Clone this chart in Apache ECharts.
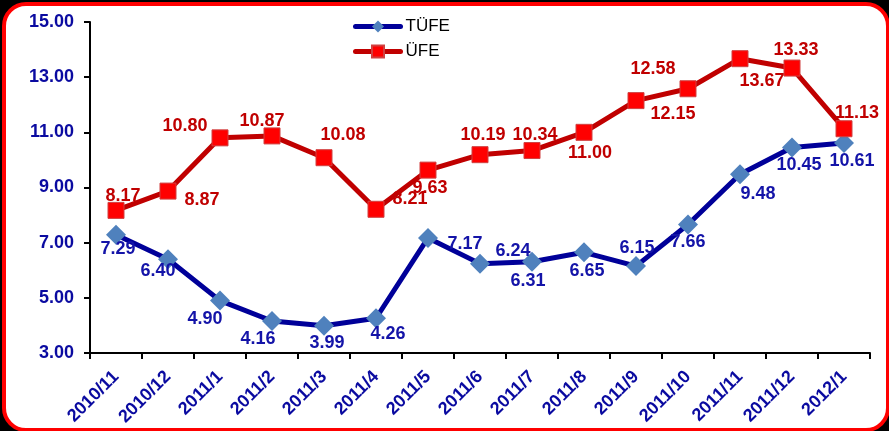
<!DOCTYPE html>
<html>
<head>
<meta charset="utf-8">
<script src="https://cdn.jsdelivr.net/npm/echarts@6/dist/echarts.min.js"></script>
<style>
html,body{margin:0;padding:0;background:#000;}
#c{width:889px;height:431px;}
</style>
</head>
<body>
<div id="c"></div>
<script>
var categories = ['2010/11','2010/12','2011/1','2011/2','2011/3','2011/4','2011/5','2011/6','2011/7','2011/8','2011/9','2011/10','2011/11','2011/12','2012/1'];
var tufe = [7.29, 6.40, 4.90, 4.16, 3.99, 4.26, 7.17, 6.24, 6.31, 6.65, 6.15, 7.66, 9.48, 10.45, 10.61];
var ufe = [8.17, 8.87, 10.80, 10.87, 10.08, 8.21, 9.63, 10.19, 10.34, 11.00, 12.15, 12.58, 13.67, 13.33, 11.13];
var yTicks = [3, 5, 7, 9, 11, 13, 15];

// label offsets (layout only)
var tufeOff = [[2,14],[-10,12],[-15,18],[-14,18],[3,17],[12,16],[37,6],[33,-13],[-4,19],[3,19],[1,-18],[0,18],[18,20],[7,18],[8,18]];
var ufeOff = [[7,-14],[34,9],[-35,-12],[-10,-15],[19,-23],[34,-10],[2,18],[3,-20],[3,-16],[6,21],[37,13],[-35,-20],[22,22],[4,-18],[13,-16]];

var chart = echarts.init(document.getElementById('c'));
var FONT = '"Liberation Sans", Arial, sans-serif';

function mk(vals, offs, color) {
  return vals.map(function (v, i) {
    return { value: v, label: { show: true, position: 'inside', offset: offs[i], formatter: function(p){return p.value.toFixed(2);}, color: color, fontWeight: 'bold', fontSize: 18, fontFamily: FONT } };
  });
}

chart.setOption({
  backgroundColor: '#000',
  animation: false,
  graphic: [{
    type: 'rect', left: 2, top: 2, z: -10,
    shape: { width: 884, height: 426, r: 22 },
    style: { fill: '#fff', stroke: '#ff0000', lineWidth: 4 }
  }],
  legend: {
    orient: 'vertical', left: 348, top: 12, itemGap: 6,
    itemWidth: 45, itemHeight: 15,
    lineStyle: { width: 5, cap: 'round' },
    textStyle: { fontFamily: FONT, fontSize: 17, color: '#000', lineHeight: 19 },
    data: ['TÜFE', 'ÜFE']
  },
  grid: { left: 90, right: 19, top: 22, bottom: 78 },
  xAxis: {
    type: 'category', data: categories, boundaryGap: true,
    axisLine: { lineStyle: { color: '#000', width: 2 } },
    axisTick: { show: true, length: 6, lineStyle: { color: '#000', width: 2 } },
    axisLabel: { rotate: 45, margin: 21, color: '#0a0aa0', fontWeight: 'bold', fontSize: 18, fontFamily: FONT, interval: 0 }
  },
  yAxis: {
    type: 'value', min: yTicks[0], max: yTicks[yTicks.length-1], interval: 2,
    axisLine: { show: true, lineStyle: { color: '#000', width: 2 } },
    axisTick: { show: true, length: 6, lineStyle: { color: '#000', width: 2 } },
    splitLine: { show: false },
    axisLabel: { color: '#0a0aa0', fontWeight: 'bold', fontSize: 18, fontFamily: FONT, margin: 16, formatter: function(v){return v.toFixed(2);} }
  },
  series: [{
    name: 'TÜFE', type: 'line', data: mk(tufe, tufeOff, '#1414a8'),
    symbol: 'diamond', symbolSize: 20,
    lineStyle: { color: '#000099', width: 5 },
    itemStyle: { color: '#4f81bd', borderColor: '#4f81bd', borderWidth: 0 },
    z: 3
  }, {
    name: 'ÜFE', type: 'line', data: mk(ufe, ufeOff, '#c00000'),
    symbol: 'rect', symbolSize: 16,
    lineStyle: { color: '#c00000', width: 5 },
    itemStyle: { color: '#ff0000', borderColor: '#d04040', borderWidth: 1 },
    z: 4
  }]
});
</script>
</body>
</html>
